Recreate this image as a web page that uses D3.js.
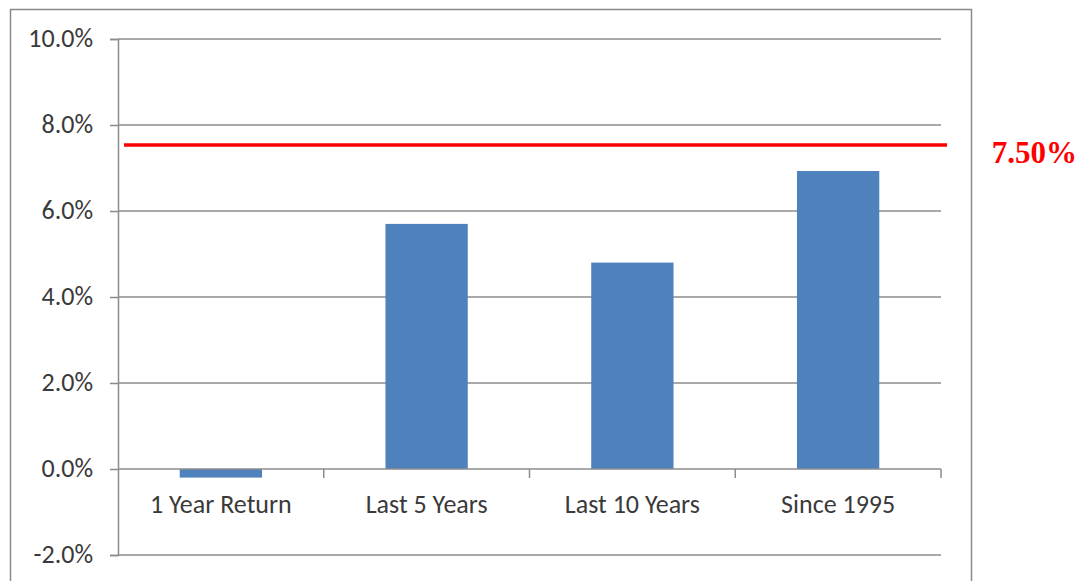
<!DOCTYPE html>
<html>
<head>
<meta charset="utf-8">
<script src="https://cdn.jsdelivr.net/npm/d3@7"></script>
<style>
  body { margin: 0; background: #fff; }
  .tick text { font-family: Carlito, Lato, sans-serif; font-size: 26px; fill: #3a3a3a; }
</style>
</head>
<body>
<div id="myChart"></div>
<script>
// data
var categories = ["1 Year Return", "Last 5 Years", "Last 10 Years", "Since 1995"];
var returns = [-0.2, 5.7, 4.8, 6.93];
var target = 7.5;
var targetLabel = "7.50%";
var yTicks = [-2, 0, 2, 4, 6, 8, 10];

var W = 1084, H = 581;
var plot = {left: 118, right: 941, top: 39, bottom: 555};

var svg = d3.select("#myChart").append("svg")
    .attr("width", W)
    .attr("height", H);

// chart frame
svg.append("rect")
    .attr("x", 10.5).attr("y", 9.5)
    .attr("width", 961).attr("height", 600)
    .attr("fill", "none")
    .attr("stroke", "#8a8a8a")
    .attr("stroke-width", 1.5);

var yScale = d3.scaleLinear()
    .domain([-2, 10])
    .range([plot.bottom, plot.top]);

var xScale = d3.scaleBand()
    .domain(categories)
    .range([plot.left, plot.right])
    .paddingInner(0.6)
    .paddingOuter(0.3);

// y axis + gridlines
var yAxis = svg.append("g")
    .attr("transform", "translate(" + plot.left + ",0)")
    .call(d3.axisLeft(yScale)
        .tickValues(yTicks)
        .tickSize(8)
        .tickPadding(17)
        .tickFormat(function(d) { return d.toFixed(1) + "%"; }));
yAxis.select(".domain").attr("stroke", "#8c8c8c").attr("stroke-width", 1.5);
yAxis.selectAll(".tick line").attr("stroke", "#8c8c8c").attr("stroke-width", 1.5);
yAxis.selectAll(".tick text").attr("dy", "0.28em");

svg.append("g").selectAll("line.grid")
    .data(yTicks.filter(function(d) { return d !== 0; }))
    .enter().append("line")
    .attr("class", "grid")
    .attr("x1", plot.left).attr("x2", plot.right)
    .attr("y1", function(d) { return yScale(d); })
    .attr("y2", function(d) { return yScale(d); })
    .attr("stroke", "#8c8c8c")
    .attr("stroke-width", 1.5);

// bars
svg.selectAll("rect.bar")
    .data(categories)
    .enter().append("rect")
    .attr("class", "bar")
    .attr("x", function(d) { return xScale(d); })
    .attr("width", xScale.bandwidth())
    .attr("y", function(d, i) { return yScale(Math.max(0, returns[i])); })
    .attr("height", function(d, i) { return Math.abs(yScale(returns[i]) - yScale(0)); })
    .attr("fill", "#4f81bd");

// category axis at zero
var x0 = yScale(0);
var xAxis = svg.append("g")
    .attr("transform", "translate(0," + x0 + ")")
    .call(d3.axisBottom(xScale).tickSize(0).tickPadding(44));
xAxis.select(".domain").remove();
xAxis.selectAll(".tick text").attr("dy", "0");

var gap = (xScale.step() - xScale.bandwidth()) / 2;
var bounds = categories.map(function(d) { return xScale(d) - gap; })
    .concat([xScale(categories[categories.length - 1]) + xScale.bandwidth() + gap]);

svg.append("line")
    .attr("x1", plot.left).attr("x2", plot.right)
    .attr("y1", x0).attr("y2", x0)
    .attr("stroke", "#8c8c8c").attr("stroke-width", 1.5);

svg.selectAll("line.xtick")
    .data(bounds.slice(1))
    .enter().append("line")
    .attr("class", "xtick")
    .attr("x1", function(d) { return d; }).attr("x2", function(d) { return d; })
    .attr("y1", x0).attr("y2", x0 + 9)
    .attr("stroke", "#8c8c8c").attr("stroke-width", 1.5);

// target line
svg.append("line")
    .attr("x1", plot.left + 6).attr("x2", plot.right + 6)
    .attr("y1", yScale(target) - 1.5).attr("y2", yScale(target) - 1.5)
    .attr("stroke", "#ff0000")
    .attr("stroke-width", 3.5);

svg.append("text")
    .attr("x", 1077)
    .attr("y", 163)
    .attr("text-anchor", "end")
    .attr("font-family", "Liberation Serif, serif")
    .attr("font-weight", "bold")
    .attr("font-size", "31px")
    .attr("fill", "#ff0000")
    .text(targetLabel);
</script>
</body>
</html>
